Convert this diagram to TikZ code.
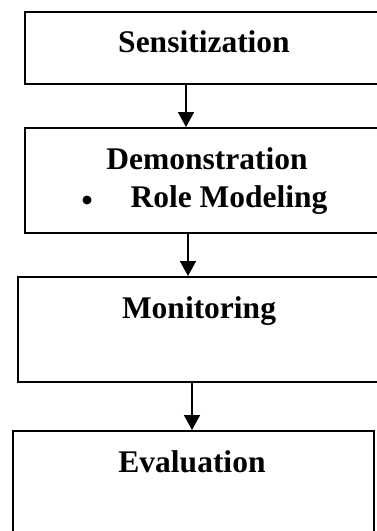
\documentclass[tikz,border=0pt]{standalone}
\usepackage{fontspec}
\setmainfont{Liberation Serif}
\usetikzlibrary{arrows.meta}
\begin{document}
\begin{tikzpicture}[x=1pt,y=-1pt,
  box/.style={draw,line width=1.7pt,rectangle,inner sep=0pt,anchor=north west},
  lbl/.style={anchor=base,inner sep=0pt,font=\fontsize{31.5}{34}\selectfont\bfseries},
  arr/.style={line width=1.7pt,-{Triangle[width=16pt,length=15pt]}}]
\useasboundingbox (0,0) rectangle (377,531);
\clip (0,0) rectangle (377,531);
\fill[white] (0,0) rectangle (377,531);
\node[box,minimum width=360pt,minimum height=72pt] (b1) at (24,11) {};
\node[box,minimum width=366pt,minimum height=105pt] (b2) at (24,127) {};
\node[box,minimum width=364pt,minimum height=105pt] (b3) at (17,276) {};
\node[box,minimum width=361pt,minimum height=130pt] (b4) at (12,430) {};
\node[lbl] (t1) at (204,52) {Sensitization};
\node[lbl] (t2) at (207,169) {Demonstration};
\node[lbl] (t3) at (229,207) {Role Modeling};
\node[circle,fill,inner sep=0pt,minimum size=9pt] (dot) at (87,200) {};
\node[lbl] (t4) at (199,318) {Monitoring};
\node[lbl] (t5) at (192,472) {Evaluation};
\coordinate (x1) at (186,0);
\coordinate (x2) at (188,0);
\coordinate (x3) at (192,0);
\draw[arr] (x1 |- b1.south) -- (x1 |- b2.north);
\draw[arr] (x2 |- b2.south) -- (x2 |- b3.north);
\draw[arr] (x3 |- b3.south) -- (x3 |- b4.north);
\end{tikzpicture}
\end{document}
